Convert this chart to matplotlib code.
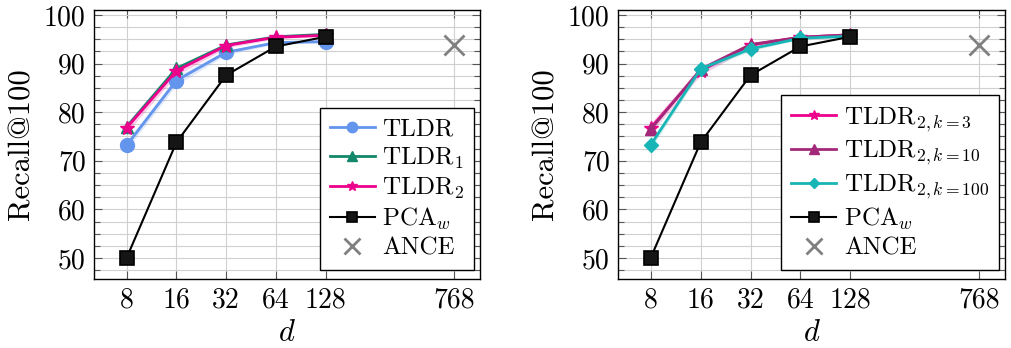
import matplotlib
matplotlib.use("Agg")
import matplotlib.pyplot as plt
import numpy as np

plt.rcParams['font.family'] = 'cmr10'
plt.rcParams['mathtext.fontset'] = 'cm'
plt.rcParams['axes.formatter.use_mathtext'] = True

# data
dims = [8, 16, 32, 64, 128]
ance_dim = 768
ance = 93.8

tldr = [73.2, 86.5, 92.3, 94.3, 94.5]
tldr_std = [0.9, 0.9, 0.5, 0.3, 0.3]
tldr1 = [77.0, 89.0, 93.8, 95.5, 96.0]
tldr2 = [76.8, 88.5, 93.7, 95.4, 95.8]
tldr2_std = [1.0, 0.9, 0.5, 0.3, 0.2]
pca_w = [50.1, 73.8, 87.6, 93.5, 95.5]

k3 = [76.8, 88.5, 93.8, 95.4, 95.9]
k3_std = [1.0, 0.9, 0.5, 0.3, 0.2]
k10 = [76.5, 88.8, 93.9, 95.4, 95.9]
k100 = [73.3, 88.9, 93.0, 95.2, 95.6]
k100_std = [0.8, 0.5, 0.4, 0.2, 0.2]

xticks = [8, 16, 32, 64, 128, 768]
yticks = [50, 60, 70, 80, 90, 100]

c_blue = '#6495ED'
c_teal = '#13876A'
c_pink = '#EC008C'
c_purple = '#A3287A'
c_cyan = '#17B5B5'

fig = plt.figure(figsize=(10.11, 3.48), dpi=100)
W, H = 1011, 348
ax1 = fig.add_axes([94 / W, (H - 279) / H, (480 - 94) / W, (279 - 10) / H])
ax2 = fig.add_axes([618 / W, (H - 279) / H, (1005 - 618) / W, (279 - 10) / H])


def band(ax, y, s, color):
    y = np.array(y)
    s = np.array(s)
    ax.fill_between(dims, y - s, y + s, color=color, alpha=0.2, lw=0, zorder=2)


def style(ax):
    ax.set_xscale('log', base=2)
    ax.set_xlim(5.07, 1100)
    ax.set_ylim(45.7, 101)
    ax.set_xticks(xticks)
    ax.set_xticklabels([str(t) for t in xticks])
    ax.xaxis.set_minor_locator(matplotlib.ticker.NullLocator())
    ax.set_yticks(yticks)
    ax.set_yticklabels([str(t) for t in yticks])
    ax.set_yticks(np.arange(47.5, 101, 2.5), minor=True)
    ax.grid(True, which='both', color='#d0d0d0', lw=0.8, zorder=0)
    ax.set_axisbelow(True)
    ax.tick_params(which='both', direction='in', top=True, right=True,
                   labelsize=20, width=0.8, color='#555555')
    ax.tick_params(which='major', length=6, pad=6)
    ax.tick_params(which='minor', length=4)
    for sp in ax.spines.values():
        sp.set_linewidth(1.0)
    ax.set_xlabel('$d$', fontsize=22, labelpad=4)
    ax.set_ylabel('Recall@100', fontsize=22, labelpad=6)


def pca_and_ance(ax):
    ax.plot(dims, pca_w, color='black', lw=1.5, marker='s', ms=10,
            mfc='#151515', mec='black', mew=1.2, label='PCA$_w$', zorder=5)
    ax.plot([ance_dim], [ance], ls='none', marker='x', ms=15, mew=2,
            color='#808080', label='ANCE', zorder=5)


# left panel
band(ax1, tldr, tldr_std, c_blue)
band(ax1, tldr2, tldr2_std, c_pink)
ax1.plot(dims, tldr, color=c_blue, lw=2, marker='o', ms=10, label='TLDR', zorder=4)
ax1.plot(dims, tldr1, color=c_teal, lw=2, marker='^', ms=9, label='TLDR$_1$', zorder=4)
ax1.plot(dims, tldr2, color=c_pink, lw=2, marker='*', ms=10, label='TLDR$_2$', zorder=4)
pca_and_ance(ax1)
style(ax1)

# right panel
band(ax2, k3, k3_std, c_pink)
band(ax2, k100, k100_std, c_cyan)
ax2.plot(dims, k3, color=c_pink, lw=2, marker='*', ms=10, label='TLDR$_{2,k{=}3}$', zorder=4)
ax2.plot(dims, k10, color=c_purple, lw=2, marker='^', ms=9, label='TLDR$_{2,k{=}10}$', zorder=4)
ax2.plot(dims, k100, color=c_cyan, lw=2, marker='D', ms=7, label='TLDR$_{2,k{=}100}$', zorder=4)
pca_and_ance(ax2)
style(ax2)

for ax in (ax1, ax2):
    leg = ax.legend(loc='lower right', bbox_to_anchor=(0.985, 0.034),
                    fontsize=18, frameon=True, fancybox=False,
                    framealpha=1, edgecolor='black', handlelength=1.8,
                    handletextpad=0.3, labelspacing=0.2, borderpad=0.4,
                    borderaxespad=0, markerscale=0.75)
    leg.get_frame().set_linewidth(1.0)

fig.savefig('out.png', dpi=100)
